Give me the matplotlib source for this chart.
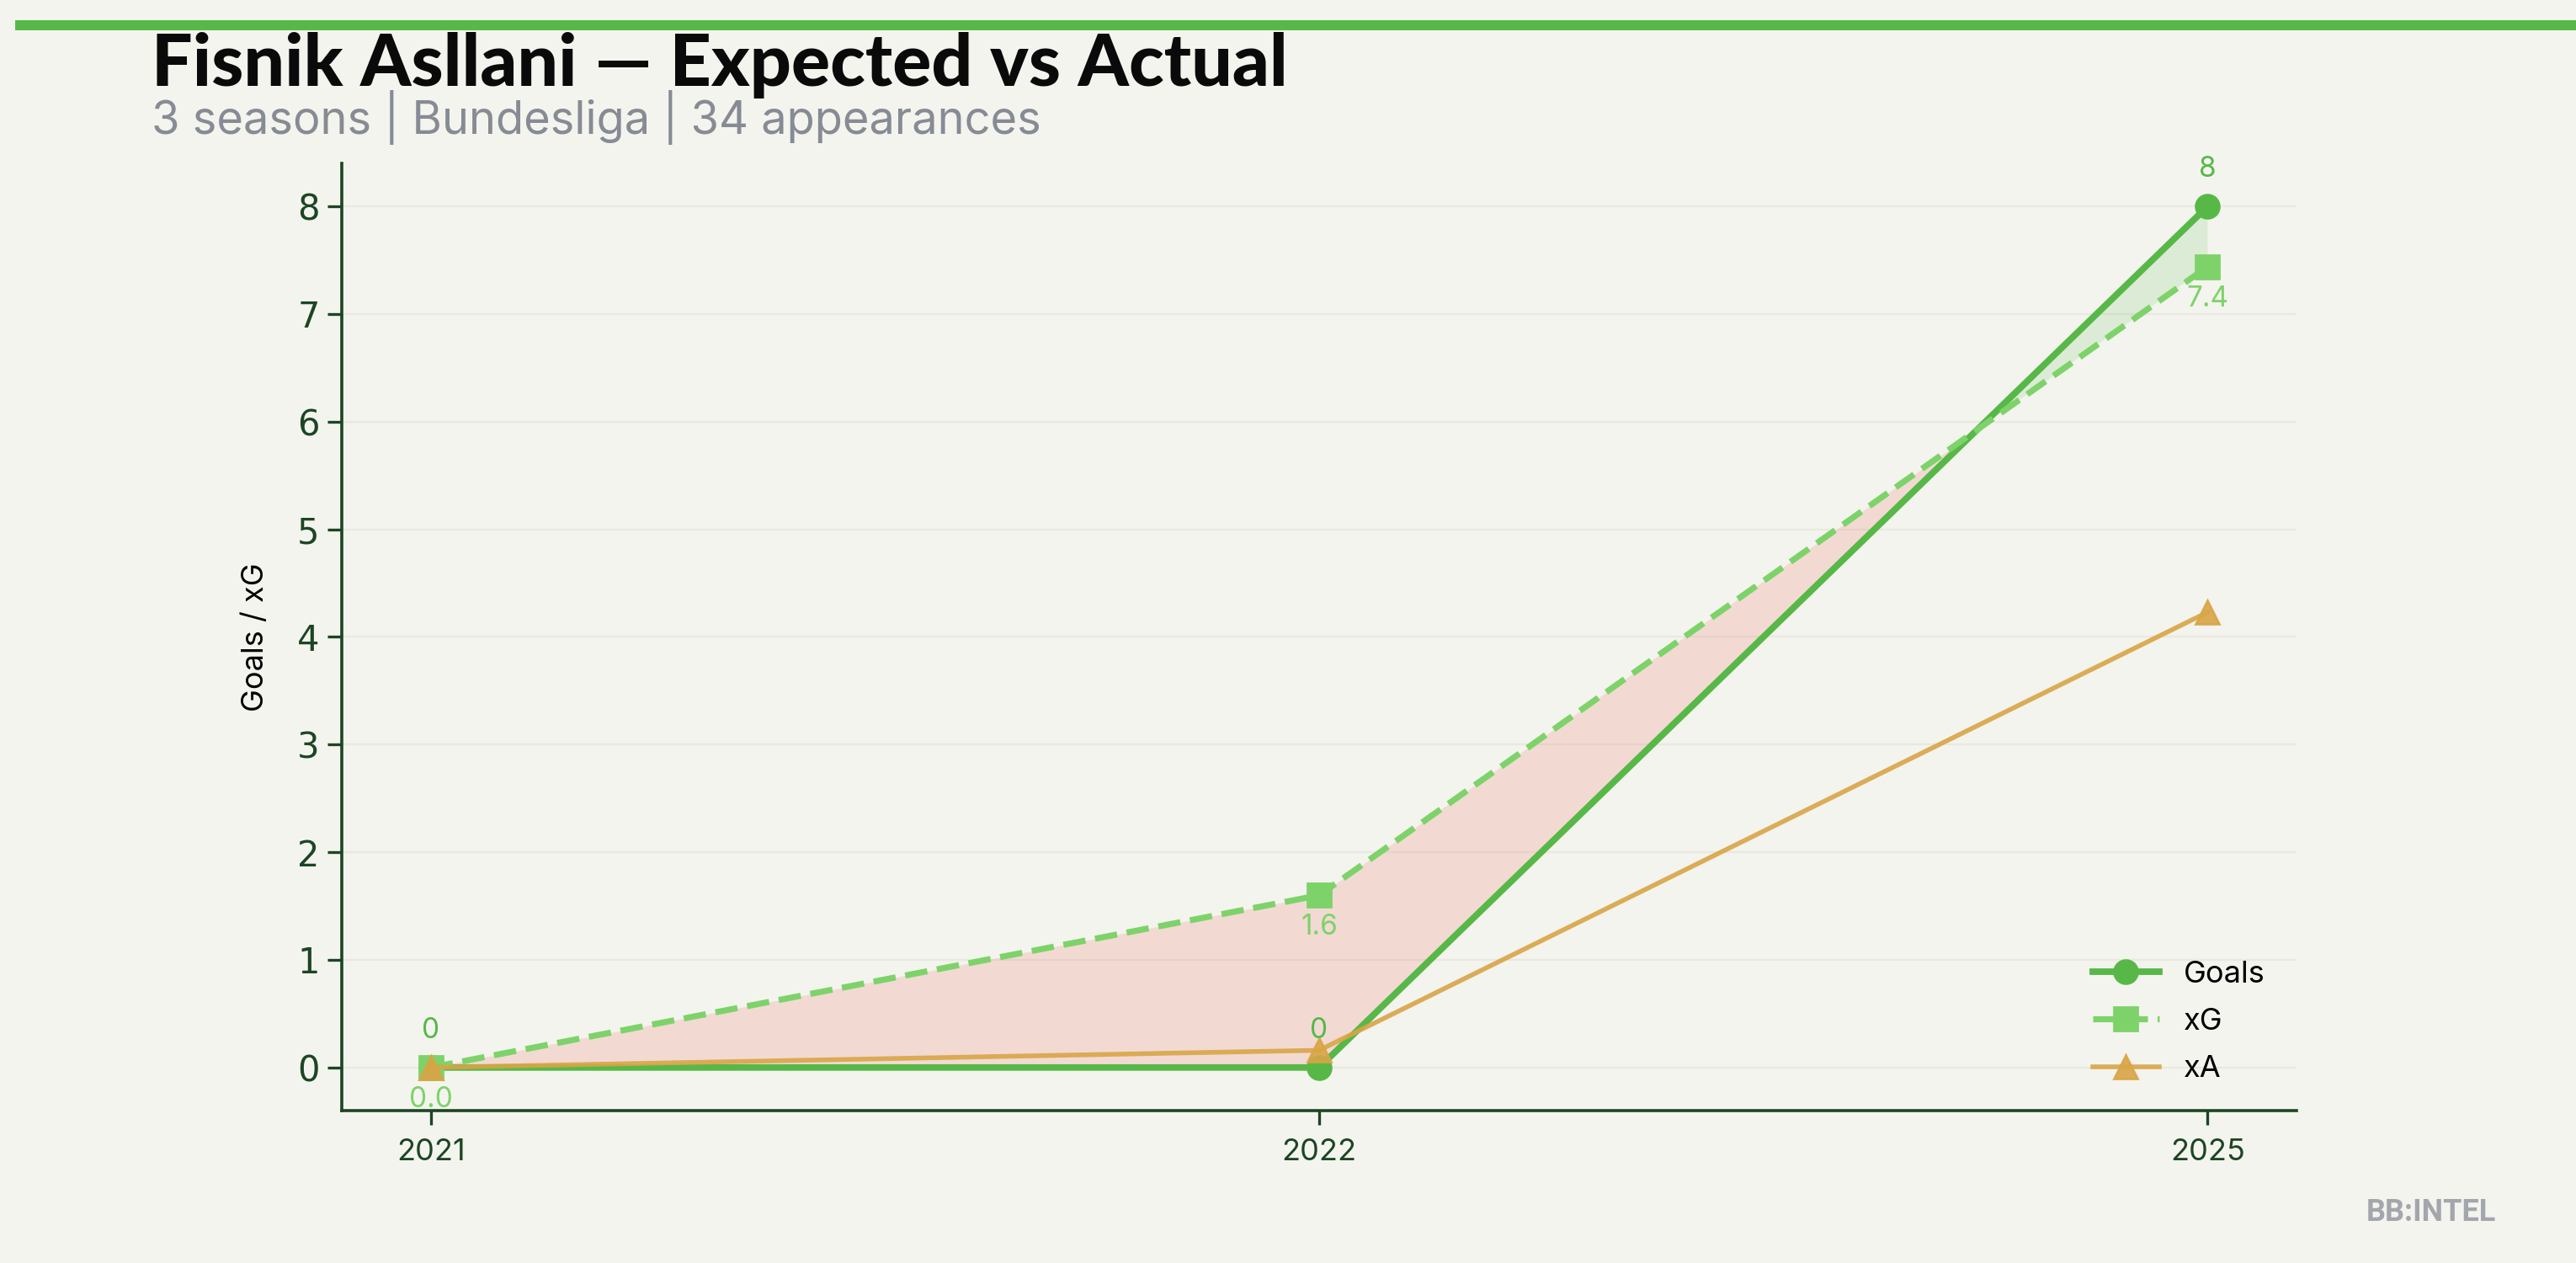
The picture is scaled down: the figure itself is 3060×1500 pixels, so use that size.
import matplotlib
matplotlib.use("Agg")
import matplotlib.pyplot as plt
import numpy as np

seasons = ["2021", "2022", "2025"]
goals = [0, 0, 8]
xg = [0.0, 1.6, 7.44]
xa = [0.0, 0.16, 4.23]

title = "Fisnik Asllani — Expected vs Actual"
subtitle = "3 seasons | Bundesliga | 34 appearances"

BG = "#f4f4ee"
GOALS_C = "#57b848"
XG_C = "#7dd36a"
XA_C = "#d9a546"
AXIS_C = "#1c4524"

plt.rcParams["font.family"] = ["Inter", "DejaVu Sans"]

fig = plt.figure(figsize=(15.3, 7.5), dpi=200, facecolor=BG)
ax = fig.add_axes([0.1327, 0.1207, 0.7588, 0.75])
ax.set_facecolor(BG)

x = np.arange(len(seasons))
g = np.array(goals, dtype=float)
e = np.array(xg, dtype=float)

ax.fill_between(x, g, e, where=e >= g, interpolate=True, color="#e74c3c", alpha=0.15, lw=0)
ax.fill_between(x, g, e, where=g >= e, interpolate=True, color=GOALS_C, alpha=0.15, lw=0)

ax.plot(x, goals, color=GOALS_C, lw=2.8, marker="o", ms=10, label="Goals", zorder=3)
ax.plot(x, xg, color=XG_C, lw=2.6, ls="--", marker="s", ms=10, label="xG", zorder=3)
ax.plot(x, xa, color=XA_C, lw=2.0, marker="^", ms=10, alpha=0.9, label="xA", zorder=3)

for xi, v in zip(x, goals):
    ax.annotate(f"{v:g}", (xi, v), xytext=(0, 10), textcoords="offset points",
                ha="center", va="bottom", color=GOALS_C, fontsize=12)
for xi, v in zip(x, xg):
    ax.annotate(f"{v:.1f}", (xi, v), xytext=(0, -8), textcoords="offset points",
                ha="center", va="top", color=XG_C, fontsize=12)

ax.set_xlim(-0.1, 2.1)
ax.set_ylim(-0.4, 8.4)
ax.set_xticks(x)
ax.set_xticklabels(seasons)
ax.set_yticks(range(0, 9))
ax.tick_params(axis="x", colors=AXIS_C, labelsize=13, length=6, width=1.2, pad=6)
ax.tick_params(axis="y", colors=AXIS_C, labelsize=15, length=6, width=1.2)
for lab in ax.get_yticklabels():
    lab.set_family(["DejaVu Sans"])
ax.set_ylabel("Goals / xG", fontsize=13, color="black", labelpad=12)

for s in ["top", "right"]:
    ax.spines[s].set_visible(False)
for s in ["left", "bottom"]:
    ax.spines[s].set_color(AXIS_C)
    ax.spines[s].set_linewidth(1.3)
ax.grid(axis="y", color="#e9e9e2", lw=0.8)
ax.set_axisbelow(True)

ax.legend(loc="lower right", frameon=False, fontsize=13, handlelength=2.2,
          labelspacing=0.65, bbox_to_anchor=(0.998, 0.0))

fig.add_artist(plt.Line2D([0.008, 1.0], [0.98, 0.98], color=GOALS_C, lw=4.3,
                          transform=fig.transFigure))
fig.text(0.0588, 0.932, title, fontsize=31, fontweight="black", family=["Lato", "DejaVu Sans"],
         color="#0a0a0a", va="baseline")
fig.text(0.0588, 0.894, subtitle, fontsize=19.5, color="#868b94", va="baseline")
fig.text(0.969, 0.033, "BB:INTEL", fontsize=13, fontweight="bold", color="#a3a6ac",
         ha="right", va="baseline", family=["Roboto", "DejaVu Sans"])

fig.savefig("out.png", dpi=200, facecolor=BG)
